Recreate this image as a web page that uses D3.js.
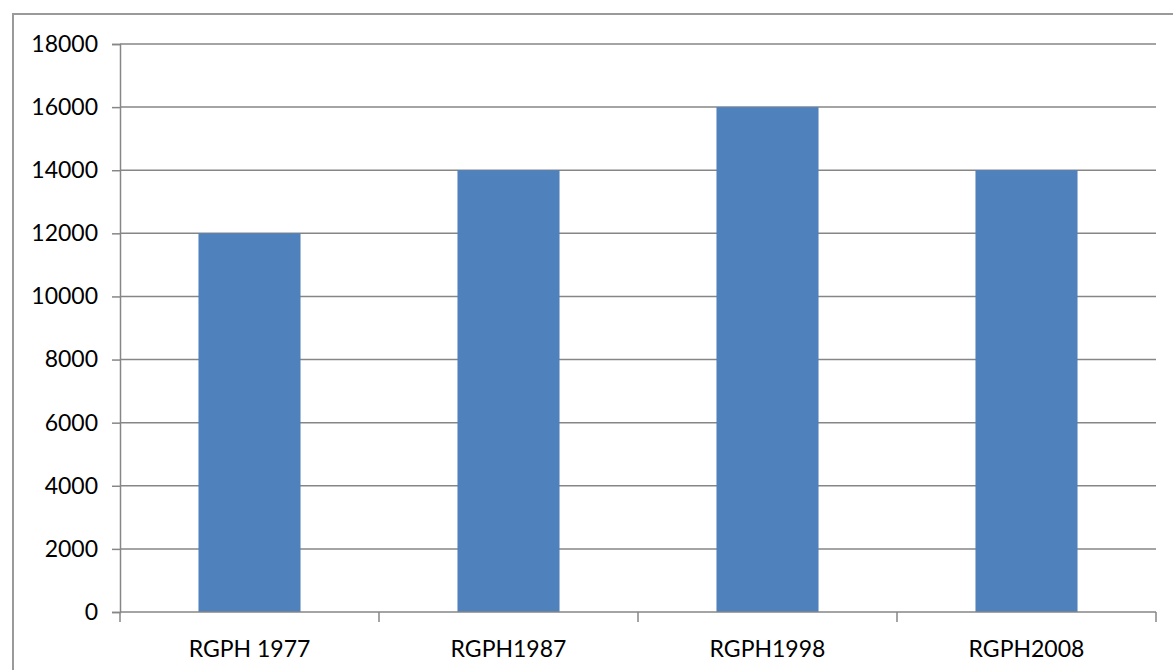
<!DOCTYPE html>
<html>
<head>
<meta charset="utf-8">
<script src="https://cdn.jsdelivr.net/npm/d3@7"></script>
<style>
  body { margin: 0; background: #fff; }
  svg { display: block; }
  text { font-family: Lato, "Open Sans", sans-serif; fill: #000; }
</style>
</head>
<body>
<div id="container"></div>
<script>
const categories = ["RGPH 1977", "RGPH1987", "RGPH1998", "RGPH2008"];
const values = [12000, 14000, 16000, 14000];
const yTicks = [0, 2000, 4000, 6000, 8000, 10000, 12000, 14000, 16000, 18000];

const width = 1173;
const height = 670;
const plot = { left: 120, right: 1156, top: 44, bottom: 612 };
const axisColor = "#868686";

const svg = d3.select("div#container").append("svg")
    .attr("width", width)
    .attr("height", height);

// chart frame (runs off the right and bottom edge)
svg.append("rect")
    .attr("x", 13).attr("y", 14)
    .attr("width", width + 20).attr("height", height + 20)
    .attr("fill", "none")
    .attr("stroke", "#9a9a9a")
    .attr("stroke-width", 2);

//----------------------------SCALES----------------------------//
const xScale = d3.scaleBand()
    .domain(categories)
    .range([plot.left, plot.right])
    .padding(0);

const yScale = d3.scaleLinear()
    .domain([0, 18000])
    .range([plot.bottom, plot.top]);

//-----------------------------GRID-----------------------------//
svg.append("g")
    .selectAll("line")
    .data(yTicks.filter(d => d > 0))
    .enter().append("line")
    .attr("x1", plot.left).attr("x2", plot.right)
    .attr("y1", d => yScale(d)).attr("y2", d => yScale(d))
    .attr("stroke", axisColor)
    .attr("stroke-width", 1.5);

//-----------------------------BARS-----------------------------//
const barW = xScale.bandwidth() * 0.394;
svg.append("g")
    .selectAll("rect")
    .data(values)
    .enter().append("rect")
    .attr("x", (d, i) => xScale(categories[i]) + (xScale.bandwidth() - barW) / 2)
    .attr("y", d => yScale(d))
    .attr("width", barW)
    .attr("height", d => yScale(0) - yScale(d))
    .attr("fill", "#4F81BD");

//-----------------------------AXES-----------------------------//
const yaxis = d3.axisLeft(yScale)
    .tickValues(yTicks)
    .tickSize(8)
    .tickPadding(14)
    .tickFormat(d3.format("d"));

const gy = svg.append("g")
    .attr("transform", "translate(" + plot.left + ",0)")
    .call(yaxis);
gy.select(".domain").attr("stroke", axisColor).attr("stroke-width", 1.5);
gy.selectAll(".tick line").attr("stroke", axisColor).attr("stroke-width", 1.5);
gy.selectAll(".tick text")
    .style("font-size", "23px")
    .attr("fill", "#000");

// x axis: line plus ticks at band boundaries
const xBounds = categories.map(c => xScale(c)).concat([plot.right]);
const gx = svg.append("g");
gx.append("line")
    .attr("x1", plot.left).attr("x2", plot.right)
    .attr("y1", yScale(0)).attr("y2", yScale(0))
    .attr("stroke", axisColor).attr("stroke-width", 1.5);
gx.selectAll(".xtick")
    .data(xBounds)
    .enter().append("line")
    .attr("class", "xtick")
    .attr("x1", d => d).attr("x2", d => d)
    .attr("y1", yScale(0)).attr("y2", yScale(0) + 10)
    .attr("stroke", axisColor).attr("stroke-width", 1.5);
gx.selectAll(".xlabel")
    .data(categories)
    .enter().append("text")
    .attr("class", "xlabel")
    .attr("x", d => xScale(d) + xScale.bandwidth() / 2)
    .attr("y", yScale(0) + 45)
    .attr("text-anchor", "middle")
    .style("font-size", "23px")
    .text(d => d);
</script>
</body>
</html>
